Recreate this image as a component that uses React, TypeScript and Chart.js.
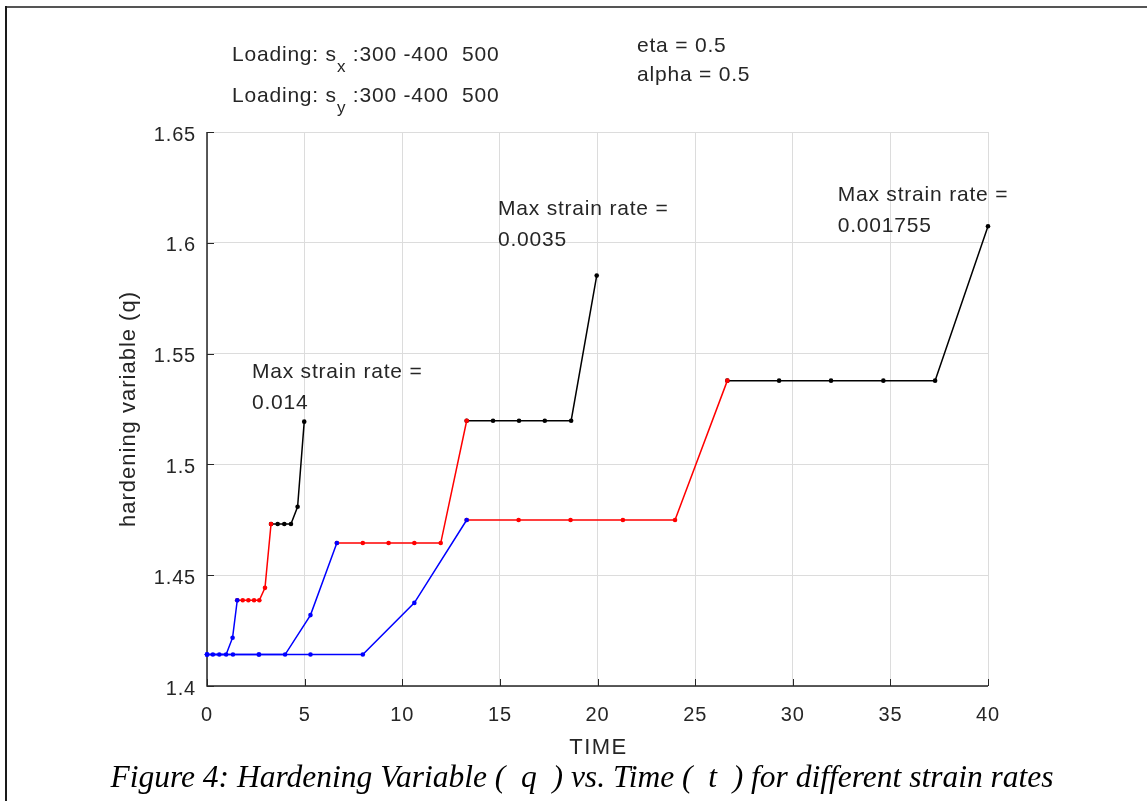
import React, { useEffect, useRef } from 'react';
import { Chart, registerables } from 'chart.js';

Chart.register(...registerables);

// Axis ticks
const xTicks = [0, 5, 10, 15, 20, 25, 30, 35, 40];
const yTicks = [1.4, 1.45, 1.5, 1.55, 1.6, 1.65];
const yTickLabels = ['1.4', '1.45', '1.5', '1.55', '1.6', '1.65'];

// Max strain rate = 0.014 (three loading stages: blue, red, black)
const fastBlueT = [0, 0.3, 0.63, 0.98, 1.31, 1.55];
const fastBlueQ = [1.4142, 1.4142, 1.4142, 1.4142, 1.4218, 1.4387];
const fastRedT = [1.55, 1.83, 2.12, 2.41, 2.68, 2.97, 3.28];
const fastRedQ = [1.4387, 1.4387, 1.4387, 1.4387, 1.4387, 1.4443, 1.4731];
const fastBlackT = [3.28, 3.62, 3.96, 4.3, 4.64, 4.98];
const fastBlackQ = [1.4731, 1.4731, 1.4731, 1.4731, 1.4809, 1.5193];

// Max strain rate = 0.0035
const midBlueT = [0, 1.33, 2.67, 4.0, 5.3, 6.65];
const midBlueQ = [1.4142, 1.4142, 1.4142, 1.4142, 1.432, 1.4645];
const midRedT = [6.65, 7.98, 9.3, 10.62, 11.97, 13.3];
const midRedQ = [1.4645, 1.4645, 1.4645, 1.4645, 1.4645, 1.5197];
const midBlackT = [13.3, 14.65, 15.98, 17.3, 18.65, 19.96];
const midBlackQ = [1.5197, 1.5197, 1.5197, 1.5197, 1.5197, 1.5852];

// Max strain rate = 0.001755
const slowBlueT = [0, 2.65, 5.3, 7.98, 10.62, 13.3];
const slowBlueQ = [1.4142, 1.4142, 1.4142, 1.4142, 1.4375, 1.4749];
const slowRedT = [13.3, 15.96, 18.62, 21.3, 23.97, 26.65];
const slowRedQ = [1.4749, 1.4749, 1.4749, 1.4749, 1.4749, 1.5378];
const slowBlackT = [26.65, 29.3, 31.96, 34.64, 37.29, 40];
const slowBlackQ = [1.5378, 1.5378, 1.5378, 1.5378, 1.5378, 1.6075];

// Text notes anchored at data coordinates (first line)
const noteTitles = ['Max strain rate =', 'Max strain rate =', 'Max strain rate ='];
const noteValues = ['0.014', '0.0035', '0.001755'];
const noteX = [2.3, 14.9, 32.3];
const noteY = [1.5417, 1.6153, 1.6216];

const headerSx = ['Loading: s', 'x', ' :300 -400  500'];
const headerSy = ['Loading: s', 'y', ' :300 -400  500'];
const paramLines = ['eta = 0.5', 'alpha = 0.5'];
const xTitle = 'TIME';
const yTitle = 'hardening variable (q)';
const caption = 'Figure 4: Hardening Variable (  q  ) vs. Time (  t  ) for different strain rates';

const SANS = '"Liberation Sans", Arial, Helvetica, sans-serif';
const SERIF = '"Liberation Serif", "Times New Roman", serif';
const TEXT = '#262626';
const BLUE = '#0000ff';
const RED = '#ff0000';
const BLACK = '#000000';
const SPACING = '0.8px';

const pairs = (t: number[], q: number[]) => t.map((x, i) => ({ x, y: q[i] }));

const stage = (t: number[], q: number[], color: string) => ({
  data: pairs(t, q),
  borderColor: color,
  backgroundColor: color,
  borderWidth: 1.5,
  pointRadius: 2.3,
  pointBorderWidth: 0,
  pointBackgroundColor: color,
  showLine: true,
  tension: 0,
  clip: false as const,
});

const decorations = {
  id: 'decorations',
  beforeInit(chart: any) {
    chart.ctx.letterSpacing = SPACING;
  },
  beforeDraw(chart: any) {
    const ctx = chart.ctx;
    ctx.letterSpacing = SPACING;
    ctx.save();
    ctx.fillStyle = '#ffffff';
    ctx.fillRect(0, 0, chart.width, chart.height);
    // page frame
    ctx.fillStyle = '#555555';
    ctx.fillRect(5, 6, chart.width - 5, 2);
    ctx.fillStyle = '#1a1a1a';
    ctx.fillRect(5, 6, 2, chart.height - 6);
    ctx.restore();
  },
  beforeDatasetsDraw(chart: any) {
    const ctx = chart.ctx;
    const xs = chart.scales.x;
    const ys = chart.scales.y;
    const { left, bottom, top, right } = chart.chartArea;
    ctx.save();
    ctx.strokeStyle = TEXT;
    ctx.lineWidth = 1.5;
    ctx.beginPath();
    ctx.moveTo(left, top);
    ctx.lineTo(left, bottom);
    ctx.lineTo(right, bottom);
    ctx.stroke();
    ctx.lineWidth = 1;
    ctx.beginPath();
    xTicks.forEach((v) => {
      const px = Math.round(xs.getPixelForValue(v)) + 0.5;
      ctx.moveTo(px, bottom);
      ctx.lineTo(px, bottom - 7);
    });
    yTicks.forEach((v) => {
      const py = Math.round(ys.getPixelForValue(v)) + 0.5;
      ctx.moveTo(left, py);
      ctx.lineTo(left + 7, py);
    });
    ctx.stroke();
    ctx.restore();
  },
  afterDraw(chart: any) {
    const ctx = chart.ctx;
    const xs = chart.scales.x;
    const ys = chart.scales.y;
    const { left, right, top, bottom } = chart.chartArea;
    ctx.save();
    ctx.letterSpacing = SPACING;
    ctx.fillStyle = TEXT;
    ctx.textBaseline = 'middle';
    ctx.textAlign = 'left';

    // loading header with subscripts
    const drawSub = (parts: string[], x: number, y: number) => {
      ctx.font = `21px ${SANS}`;
      ctx.fillText(parts[0], x, y);
      let cx = x + ctx.measureText(parts[0]).width;
      ctx.font = `17px ${SANS}`;
      ctx.fillText(parts[1], cx, y + 12);
      cx += ctx.measureText(parts[1]).width;
      ctx.font = `21px ${SANS}`;
      ctx.fillText(parts[2], cx, y);
    };
    drawSub(headerSx, 232, 55);
    drawSub(headerSy, 232, 96);

    ctx.font = `21px ${SANS}`;
    ctx.fillText(paramLines[0], 637, 46);
    ctx.fillText(paramLines[1], 637, 75);

    // strain-rate notes
    noteTitles.forEach((t, i) => {
      const px = xs.getPixelForValue(noteX[i]);
      const py = ys.getPixelForValue(noteY[i]);
      ctx.fillText(t, px, py);
      ctx.fillText(noteValues[i], px, py + 31);
    });

    // axis titles
    ctx.letterSpacing = '1.5px';
    ctx.font = `22px ${SANS}`;
    ctx.textAlign = 'center';
    ctx.fillText(xTitle, (left + right) / 2 + 1, 748);
    ctx.letterSpacing = '1px';
    ctx.save();
    ctx.translate(129, (top + bottom) / 2);
    ctx.rotate(-Math.PI / 2);
    ctx.fillText(yTitle, 0, 0);
    ctx.restore();

    // caption
    ctx.letterSpacing = '0px';
    ctx.fillStyle = '#000000';
    ctx.font = `italic 31.5px ${SERIF}`;
    ctx.fillText(caption, 582, 779);
    ctx.restore();
  },
};

export default function App() {
  const canvasRef = useRef<HTMLCanvasElement | null>(null);

  useEffect(() => {
    document.body.style.margin = '0';
    const canvas = canvasRef.current;
    if (!canvas) return;
    const chart = new Chart(canvas, {
      type: 'scatter',
      data: {
        datasets: [
          stage(slowBlueT, slowBlueQ, BLUE),
          stage(midBlueT, midBlueQ, BLUE),
          stage(fastBlueT, fastBlueQ, BLUE),
          stage(slowRedT, slowRedQ, RED),
          stage(midRedT, midRedQ, RED),
          stage(fastRedT, fastRedQ, RED),
          stage(slowBlackT, slowBlackQ, BLACK),
          stage(midBlackT, midBlackQ, BLACK),
          stage(fastBlackT, fastBlackQ, BLACK),
        ],
      },
      options: {
        responsive: false,
        animation: false,
        devicePixelRatio: 1,
        layout: { padding: { top: 132, right: 159, bottom: 55, left: 0 } },
        plugins: {
          legend: { display: false },
          tooltip: { enabled: false },
          title: { display: false },
        },
        scales: {
          x: {
            type: 'linear',
            min: 0,
            max: 40,
            afterBuildTicks: (scale: any) => {
              scale.ticks = xTicks.map((v) => ({ value: v }));
            },
            afterFit: (scale: any) => {
              scale.height = 60;
            },
            grid: { color: '#dcdcdc', lineWidth: 1, drawTicks: false },
            border: { display: false },
            ticks: {
              padding: 17,
              color: TEXT,
              font: { family: SANS, size: 20 },
              maxRotation: 0,
              callback: (v: any) => String(v),
            },
          },
          y: {
            type: 'linear',
            min: 1.4,
            max: 1.65,
            afterBuildTicks: (scale: any) => {
              scale.ticks = yTicks.map((v) => ({ value: v }));
            },
            afterFit: (scale: any) => {
              scale.width = 207;
            },
            grid: { color: '#dcdcdc', lineWidth: 1, drawTicks: false },
            border: { display: false },
            ticks: {
              padding: 11,
              labelOffset: 3,
              color: TEXT,
              font: { family: SANS, size: 20 },
              callback: (v: any) => {
                const i = yTicks.findIndex((t) => Math.abs(t - Number(v)) < 1e-6);
                return i >= 0 ? yTickLabels[i] : '';
              },
            },
          },
        },
      },
      plugins: [decorations],
    } as any);
    return () => chart.destroy();
  }, []);

  return (
    <div style={{ width: 1147, height: 801, position: 'relative', background: '#fff' }}>
      <canvas ref={canvasRef} width={1147} height={801} style={{ display: 'block' }} />
    </div>
  );
}
